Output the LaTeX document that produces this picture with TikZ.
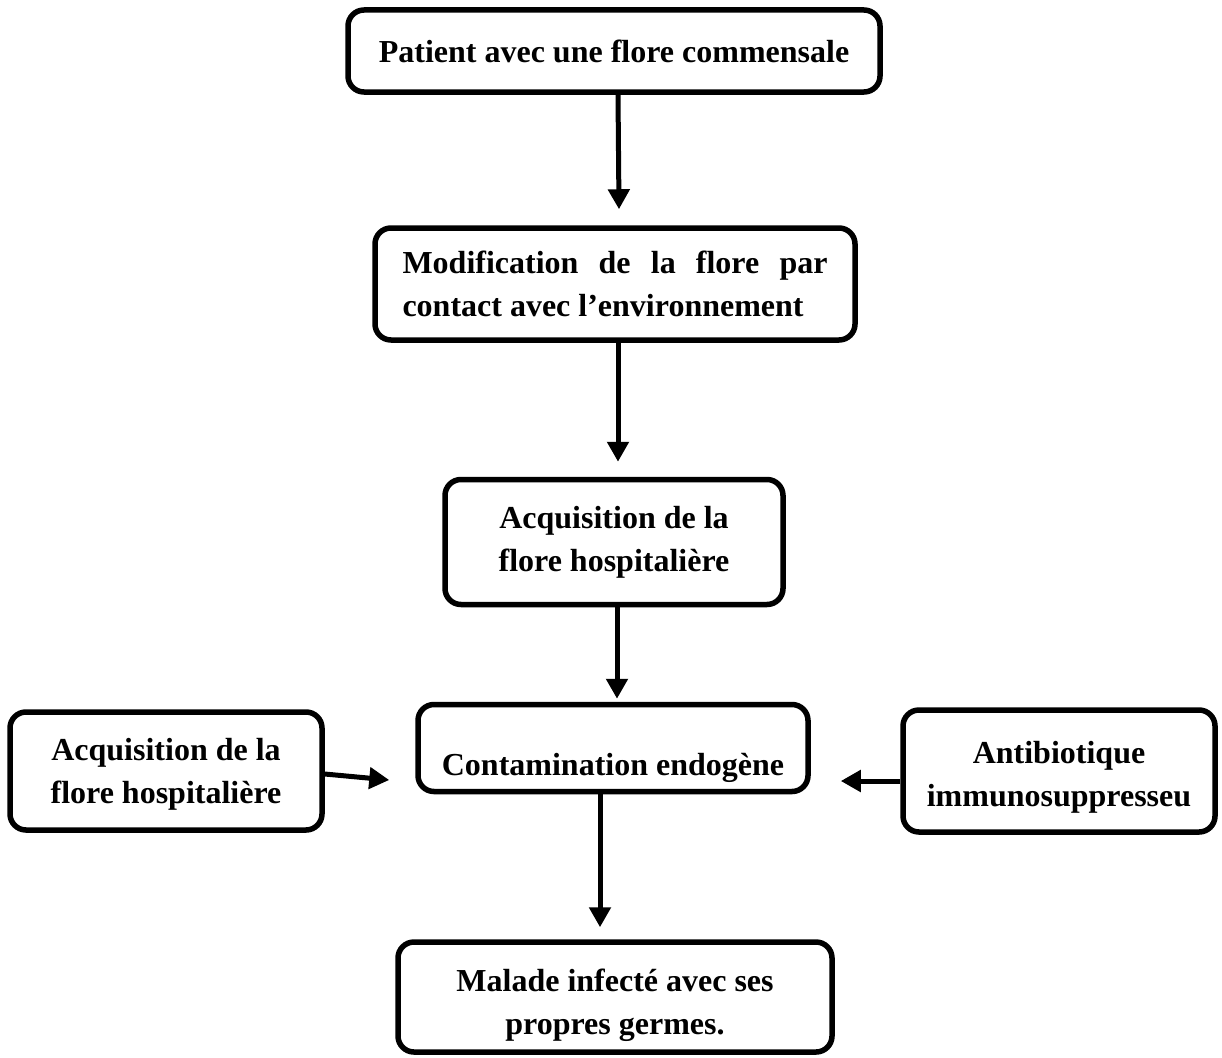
\documentclass[tikz,border=0pt]{standalone}
\usepackage{fontspec}
\setmainfont{Liberation Serif}
\usetikzlibrary{arrows.meta}

\begin{document}
\begin{tikzpicture}[x=1pt,y=1pt,
  stepbox/.style={draw=black, line width=5.5pt, rounded corners=16pt,
    align=center, inner sep=0pt, fill=white,
    font=\fontsize{32}{43}\selectfont\bfseries},
  arr/.style={line width=5pt,
    -{Triangle[length=20pt,width=21pt]}}]
  \useasboundingbox (0,0) rectangle (1222,-1057);

  % main chain of boxes
  \node[stepbox, minimum width=532pt, minimum height=82pt] (b1) at (614,-51)
    {Patient avec une flore commensale};
  \node[stepbox, minimum width=480pt, minimum height=112pt, align=left] (b2) at (615,-284)
    {\makebox[425pt][s]{Modification de la flore par}\\contact avec l’environnement};
  \node[stepbox, minimum width=338pt, minimum height=125pt] (b3) at (614,-542)
    {Acquisition de la\\flore hospitalière};
  \node[stepbox, minimum width=390pt, minimum height=87pt] (b4) at (613,-748)
    {\rule{0pt}{62pt}Contamination endogène};
  \node[stepbox, minimum width=434pt, minimum height=110pt] (b5) at (615,-997)
    {\rule{0pt}{40pt}Malade infecté avec ses\\propres germes.};

  % side factors
  \node[stepbox, minimum width=312pt, minimum height=118pt] (lb) at (166,-771)
    {\rule{0pt}{28pt}Acquisition de la\\flore hospitalière};
  \node[stepbox, minimum width=312pt, minimum height=122pt] (rb) at (1059,-771)
    {\rule{0pt}{35pt}Antibiotique\\immunosuppresseu};

  % connectors
  \draw[arr] ([xshift=4pt]b1.south) -- ([xshift=4pt,yshift=16pt]b2.north);
  \draw[arr] ([xshift=3pt]b2.south) -- ([xshift=4pt,yshift=15pt]b3.north);
  \draw[arr] ([xshift=3pt]b3.south) -- ([xshift=4pt,yshift=3pt]b4.north);
  \draw[arr] ([xshift=-13pt]b4.south) -- ([xshift=-15pt,yshift=12pt]b5.north);
  \draw[arr] ([yshift=-3pt]lb.east) -- ([xshift=-26pt,yshift=-32pt]b4.west);
  \draw[arr] ([yshift=-10pt]rb.west) -- ([xshift=30pt,yshift=-33pt]b4.east);
\end{tikzpicture}
\end{document}
